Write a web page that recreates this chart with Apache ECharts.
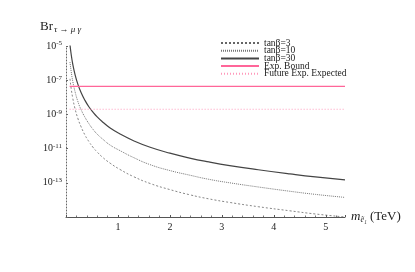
<!DOCTYPE html>
<html><head><meta charset="utf-8">
<script src="https://cdn.jsdelivr.net/npm/echarts@6/dist/echarts.min.js"></script>
<style>html,body{margin:0;padding:0;background:#fff}#c{width:415px;height:272px}</style>
</head><body><div id="c"></div>
<script>
// Data
const masses = [0.077, 0.1, 0.13, 0.173, 0.231, 0.29, 0.365, 0.44, 0.519, 0.6, 0.71, 0.85, 1.04, 1.3, 1.62, 2.0, 2.38, 2.75, 3.15, 3.7, 4.31, 4.8, 5.37];
const tb30 = [1.15e-5, 3.2e-6, 8.7e-7, 2.2e-7, 5.5e-8, 1.9e-8, 6.6e-9, 2.8e-9, 1.35e-9, 7.1e-10, 3.5e-10, 1.6e-10, 7.2e-11, 2.9e-11, 1.2e-11, 5.4e-12, 2.8e-12, 1.66e-12, 1.02e-12, 5.8e-13, 3.3e-13, 2.2e-13, 1.5e-13];
const tb10 = [1.15e-6, 3.2e-7, 8.7e-8, 2.2e-8, 5.4e-9, 1.9e-9, 6.8e-10, 2.9e-10, 1.35e-10, 7.0e-11, 3.5e-11, 1.6e-11, 7.6e-12, 3.0e-12, 1.15e-12, 5.2e-13, 2.8e-13, 1.6e-13, 1.0e-13, 5.7e-14, 3.2e-14, 2.1e-14, 1.4e-14];
const tb3  = [1.2e-7, 3.2e-8, 8.9e-9, 2.2e-9, 5.5e-10, 1.9e-10, 6.2e-11, 2.6e-11, 1.2e-11, 6.3e-12, 3.0e-12, 1.4e-12, 6.0e-13, 2.3e-13, 9.1e-14, 4.0e-14, 2.0e-14, 1.15e-14, 7.1e-15, 4.0e-15, 2.3e-15, 1.5e-15, 1.0e-15];
const boundX = [0.07, 5.37];
const expBound = 4.4e-8;
const futureBound = 2.0e-9;
const seriesNames = ['tanβ=3', 'tanβ=10', 'tanβ=30', 'Exp. Bound', 'Future Exp. Expected'];

const pairs = (xs, ys) => xs.map((x, i) => [x, ys[i]]);
const FONT = 'Liberation Serif';

const chart = echarts.init(document.getElementById('c'), null, {renderer: 'canvas'});
chart.setOption({
  animation: false,
  backgroundColor: '#fff',
  textStyle: {fontFamily: FONT},
  grid: {left: 66, right: 70, top: 46, bottom: 55, containLabel: false},
  legend: {
    orient: 'vertical', left: 218, top: 36, padding: 2,
    itemWidth: 38, itemHeight: 7.7, itemGap: -2.3,
    itemStyle: {opacity: 0},
    textStyle: {fontFamily: FONT, fontSize: 9.5, color: '#222', lineHeight: 7.7},
    data: seriesNames
  },
  xAxis: {
    type: 'value', min: 0, max: 5.37, interval: 1,
    axisLine: {show: true, lineStyle: {color: '#555', width: 1}},
    axisTick: {show: true, inside: true, length: 2, lineStyle: {color: '#555'}},
    minorTick: {show: true, splitNumber: 5, length: 1.5, lineStyle: {color: '#777'}},
    splitLine: {show: false},
    axisLabel: {
      fontFamily: FONT, fontSize: 10, color: '#222', margin: 5,
      formatter: v => (v >= 1 && v <= 5 && Math.abs(v - Math.round(v)) < 1e-6) ? String(Math.round(v)) : ''
    },
    name: '{m|m}{s|ẽ₁}{t| (TeV)}', nameLocation: 'end', nameGap: 6,
    nameTextStyle: {
      rich: {
        m: {fontFamily: FONT, fontStyle: 'italic', fontSize: 13, color: '#222'},
        s: {fontFamily: FONT, fontStyle: 'italic', fontSize: 8, color: '#222', verticalAlign: 'bottom', padding: [6, 0, 0, 0]},
        t: {fontFamily: FONT, fontSize: 13, color: '#222'}
      }
    }
  },
  yAxis: {
    type: 'log', logBase: 10, min: 1e-15, max: 1e-5, interval: 2,
    axisLine: {show: true, lineStyle: {color: '#666', width: 1, type: [1, 2]}},
    axisTick: {show: true, inside: true, length: 2, lineStyle: {color: '#666'}},
    minorTick: {show: false},
    splitLine: {show: false},
    axisLabel: {
      margin: 4,
      formatter: v => {
        const e = Math.round(Math.log10(v));
        if (e <= -15) return '';
        return '{b|10}{s|' + e + '}';
      },
      rich: {
        b: {fontFamily: FONT, fontSize: 10, color: '#222'},
        s: {fontFamily: FONT, fontSize: 7, color: '#222', verticalAlign: 'top', padding: [0, 0, 5, 0]}
      }
    }
  },
  graphic: [{
    type: 'text', left: 40, top: 20,
    style: {
      text: '{b|Br}{s|τ → μ γ}',
      rich: {
        b: {fontFamily: FONT, fontSize: 13, fill: '#222'},
        s: {fontFamily: FONT, fontStyle: 'italic', fontSize: 9, fill: '#222', padding: [7, 0, 0, 1]}
      }
    }
  }],
  series: [
    {name: seriesNames[0], type: 'line', symbol: 'none', smooth: true, data: pairs(masses, tb3),
     lineStyle: {color: '#666', width: 0.8, type: [2, 2]}, itemStyle: {color: '#666'}},
    {name: seriesNames[1], type: 'line', symbol: 'none', smooth: true, data: pairs(masses, tb10),
     lineStyle: {color: '#777', width: 1, type: [1, 1]}, itemStyle: {color: '#777'}},
    {name: seriesNames[2], type: 'line', symbol: 'none', smooth: true, data: pairs(masses, tb30),
     lineStyle: {color: '#444', width: 1.2}, itemStyle: {color: '#444'}},
    {name: seriesNames[3], type: 'line', symbol: 'none', data: pairs(boundX, [expBound, expBound]),
     lineStyle: {color: '#ff6699', width: 1.2}, itemStyle: {color: '#ff6699'}},
    {name: seriesNames[4], type: 'line', symbol: 'none', data: pairs(boundX, [futureBound, futureBound]),
     lineStyle: {color: '#ff99bb', width: 1, type: [1, 2]}, itemStyle: {color: '#ff99bb'}}
  ]
});
</script></body></html>
